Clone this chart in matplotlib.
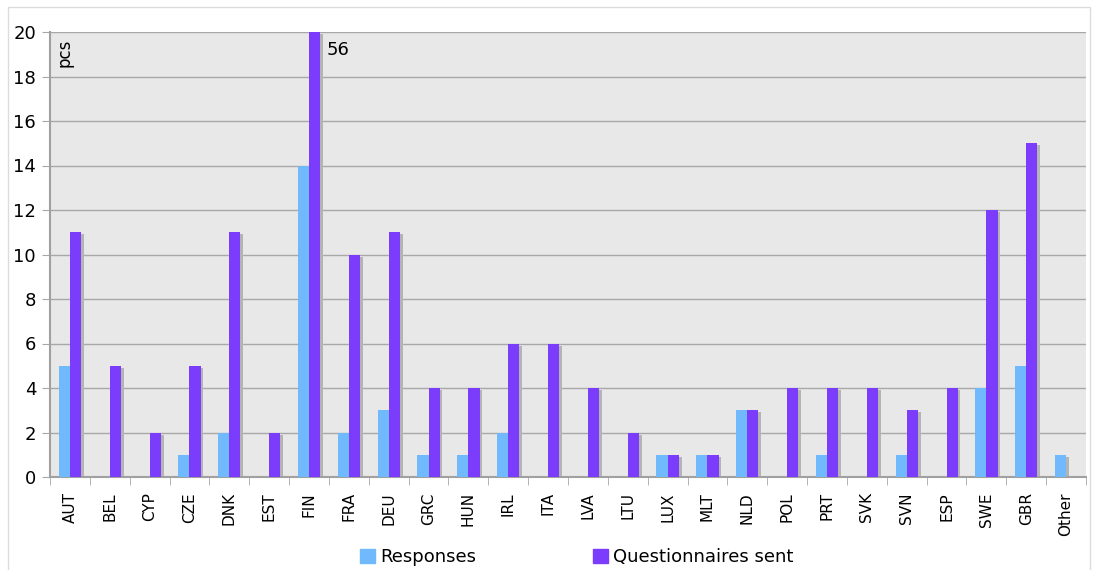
import numpy as np
import matplotlib
matplotlib.use('Agg')
import matplotlib.pyplot as plt
from matplotlib.patches import Rectangle, Patch

countries = ['AUT', 'BEL', 'CYP', 'CZE', 'DNK', 'EST', 'FIN', 'FRA', 'DEU', 'GRC',
             'HUN', 'IRL', 'ITA', 'LVA', 'LTU', 'LUX', 'MLT', 'NLD', 'POL', 'PRT',
             'SVK', 'SVN', 'ESP', 'SWE', 'GBR', 'Other']
responses = [5, 0, 0, 1, 2, 0, 14, 2, 3, 1, 1, 2, 0, 0, 0, 1, 1, 3, 0, 1, 0, 1, 0, 4, 5, 1]
sent = [11, 5, 2, 5, 11, 2, 56, 10, 11, 4, 4, 6, 6, 4, 2, 1, 1, 3, 4, 4, 4, 3, 4, 12, 15, 0]

c_resp = '#6fb9fc'
c_sent = '#7b3cfb'
c_shadow = '#b4b4b4'
ymax = 20

fig = plt.figure(figsize=(10.93, 5.70), dpi=100)
# thin frame around the whole chart
fig.patches.append(Rectangle((8 / 1093, -0.05), 1082 / 1093, 1.05 - 7 / 570,
                             transform=fig.transFigure, fill=False,
                             edgecolor='#dcdcdc', linewidth=1))

ax = fig.add_axes([50 / 1093, 1 - 477 / 570, 1036 / 1093, 445 / 570])
ax.set_facecolor('#e8e8e8')

x = np.arange(len(countries))
w = 0.28
resp = np.array(responses, dtype=float)
snt = np.clip(np.array(sent, dtype=float), 0, ymax)

# drop shadows behind the bars
for xs, vals in ((x - w / 2, resp), (x + w / 2, snt)):
    sh = np.where(vals > 0, np.maximum(vals - 0.1, 0), 0)
    ax.bar(xs + 0.07, sh, w, color=c_shadow, zorder=2, linewidth=0)

ax.bar(x - w / 2, resp, w, color=c_resp, zorder=3, linewidth=0, label='Responses')
ax.bar(x + w / 2, snt, w, color=c_sent, zorder=3, linewidth=0, label='Questionnaires sent')

ax.set_xlim(-0.5, len(countries) - 0.5)
ax.set_ylim(0, ymax)
ax.set_yticks(range(0, 21, 2))
ax.yaxis.grid(True, color='#a8a8a8', linewidth=1, zorder=1)
ax.set_axisbelow(True)

ax.set_xticks(x)
ax.set_xticklabels(countries, rotation=90, fontsize=11)
ax.set_xticks(np.arange(-0.5, len(countries)), minor=True)
ax.tick_params(axis='x', which='major', length=0, pad=11)
ax.tick_params(axis='x', which='minor', length=6, color='#a8a8a8')
ax.tick_params(axis='y', labelsize=13, length=6, color='#a8a8a8', pad=4)

for s in ('top', 'right'):
    ax.spines[s].set_visible(False)
for s in ('left', 'bottom'):
    ax.spines[s].set_color('#a0a0a0')
    ax.spines[s].set_linewidth(1.5)

# FIN value is off the scale
fin = countries.index('FIN')
ax.text(fin + w / 2 + 0.3, 19.2, str(sent[fin]), fontsize=13, va='center', ha='left')
ax.text(0.005, 0.985, 'pcs', transform=ax.transAxes, rotation=90,
        fontsize=12, va='top', ha='left')

handles = [Patch(color=c_resp), Patch(color=c_sent)]
fig.legend(handles, ['Responses', 'Questionnaires sent'], loc='center',
           bbox_to_anchor=(577 / 1093, 1 - 557 / 570), ncol=2, frameon=False,
           fontsize=13, handlelength=0.8, handleheight=0.8, handletextpad=0.3,
           columnspacing=6.5)

fig.savefig('out.png', dpi=100)
